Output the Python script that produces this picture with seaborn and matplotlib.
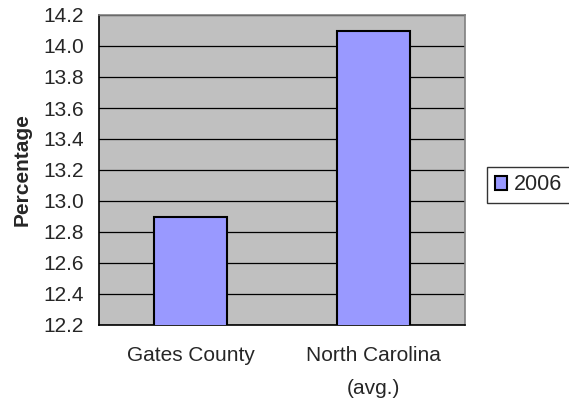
import pandas as pd
import matplotlib
matplotlib.use("Agg")
import matplotlib.pyplot as plt
import seaborn as sns
from matplotlib.ticker import FormatStrFormatter, MultipleLocator

categories = ["Gates County", "North Carolina\n(avg.)"]
values_2006 = [12.9, 14.1]
series_name = "2006"

df = pd.DataFrame({"Area": categories, "Percentage": values_2006, "Year": series_name})

sns.set_theme(style="white")
plt.rcParams["font.family"] = ["Liberation Sans", "DejaVu Sans"]

fig = plt.figure(figsize=(5.69, 3.98), dpi=100)
ax = fig.add_axes([99 / 569, 73 / 398, 366 / 569, 310 / 398])
ax.set_facecolor("#C0C0C0")

sns.barplot(
  data=df, x="Area", y="Percentage", hue="Year",
  palette=["#9999FF"], saturation=1, edgecolor="black", linewidth=1.5,
  width=0.4, ax=ax, zorder=3
)

ax.set_ylim(12.2, 14.2)
ax.yaxis.set_major_locator(MultipleLocator(0.2))
ax.yaxis.set_major_formatter(FormatStrFormatter("%.1f"))
ax.grid(axis="y", color="black", linewidth=0.9, zorder=1)
ax.set_axisbelow(True)

# category boundaries get the tick marks, labels sit centred under the bars
ax.set_xlim(-0.5, 1.5)
ax.set_xticks([-0.5, 0.5, 1.5], minor=False)
ax.set_xticklabels(["", "", ""])
ax.set_xticks([0, 1], minor=True)
ax.set_xticklabels(categories, minor=True, fontsize=15, linespacing=1.95)
ax.tick_params(axis="x", which="minor", length=0, pad=15)
ax.tick_params(axis="x", which="major", length=5, width=1, color="black", direction="out")
ax.tick_params(axis="y", length=5, width=1, color="black", direction="out", labelsize=15, pad=6)

for side in ["top", "right"]:
  ax.spines[side].set_color("#808080")
  ax.spines[side].set_linewidth(1.2)
for side in ["left", "bottom"]:
  ax.spines[side].set_color("black")
  ax.spines[side].set_linewidth(1.2)

ax.set_xlabel("")
ax.set_ylabel("Percentage", fontsize=15, fontweight="bold")
ax.yaxis.set_label_coords(-0.185, 0.5)

ax.legend(
  loc="center left", bbox_to_anchor=(487 / 569, (398 - 185) / 398), bbox_transform=fig.transFigure,
  frameon=True, fancybox=False, edgecolor="black", fontsize=15.5,
  handlelength=0.6, handleheight=0.6, handletextpad=0.3, borderpad=0.35, borderaxespad=0
)
ax.get_legend().get_frame().set_linewidth(1.0)

fig.savefig("out.png", dpi=100, facecolor="white")
